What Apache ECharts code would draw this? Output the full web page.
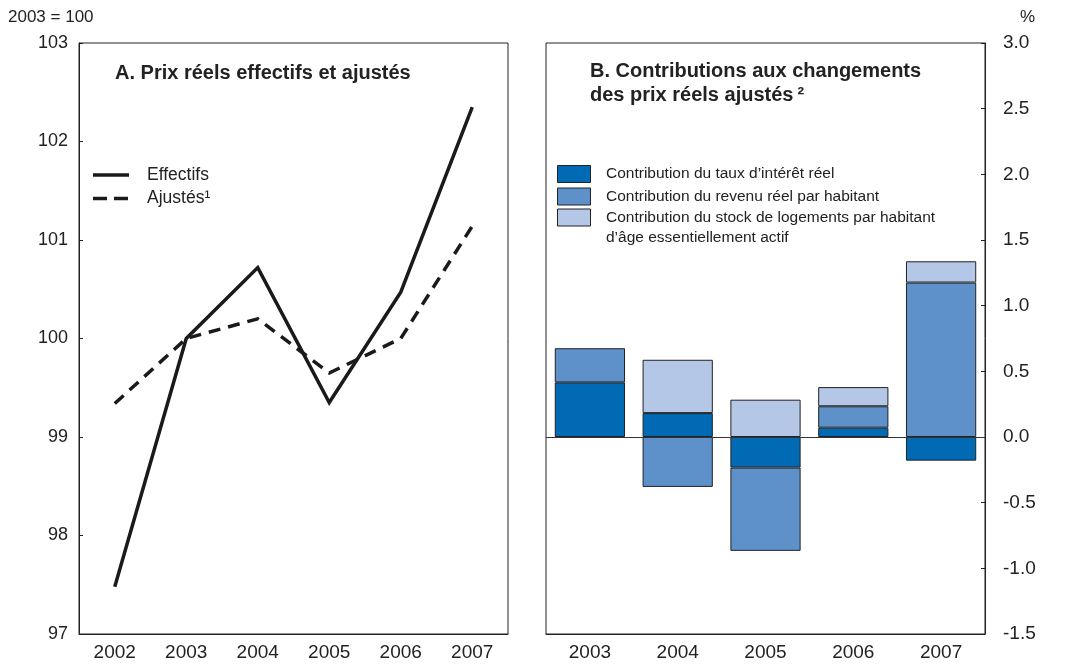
<!DOCTYPE html>
<html>
<head>
<meta charset="utf-8">
<script src="https://cdn.jsdelivr.net/npm/echarts@6/dist/echarts.min.js"></script>
<style>
  html, body { margin: 0; padding: 0; background: #fff; }
  #chart { width: 1069px; height: 664px; }
</style>
</head>
<body>
<div id="chart"></div>
<script>
// Panel A : prix réels (2003 = 100)
var years = ['2002', '2003', '2004', '2005', '2006', '2007'];
var effectifs = [97.48, 100.0, 100.72, 99.35, 100.47, 102.35];
var ajustes = [99.34, 100.0, 100.2, 99.65, 100.0, 101.14];

// Panel B : contributions (%)
var contribYears = ['2003', '2004', '2005', '2006', '2007'];
var tauxInteret = [0.416, 0.182, -0.233, 0.071, -0.18];
var revenu = [0.26, -0.38, -0.634, 0.163, 1.176];
var stockLogements = [null, 0.406, 0.284, 0.146, 0.162];

var legendA = ['Effectifs', 'Ajustés\u00b9'];
var legendB = [
    'Contribution du taux d\u2019intérêt réel',
    'Contribution du revenu réel par habitant',
    'Contribution du stock de logements par habitant\nd\u2019âge essentiellement actif'
];

var FONT = '"Liberation Sans", Arial, Helvetica, sans-serif';
var INK = '#222';
var LINE = '#1a1a1a';
var colors = ['#006ab4', '#5e90ca', '#b4c7e7'];

var myChart = echarts.init(document.getElementById('chart'), null, {renderer: 'canvas'});

function legendBox(i, cy) {
    return [{
        type: 'rect',
        shape: {x: 557.5, y: cy - 8.5, width: 33, height: 17},
        style: {fill: colors[i], stroke: INK, lineWidth: 1}
    }, {
        type: 'text',
        x: 606, y: cy,
        style: {text: legendB[i], font: '15.5px ' + FONT, fill: INK, verticalAlign: 'middle', lineHeight: 20}
    }];
}

var graphics = [
    {type: 'text', x: 8, y: 17, style: {text: '2003 = 100', font: '17px ' + FONT, fill: INK, verticalAlign: 'middle'}},
    {type: 'text', x: 1020, y: 17, style: {text: '%', font: '17px ' + FONT, fill: INK, verticalAlign: 'middle'}},
    {type: 'text', x: 115, y: 73, style: {text: 'A. Prix réels effectifs et ajustés', font: 'bold 20px ' + FONT, fill: INK, verticalAlign: 'middle'}},
    {type: 'text', x: 590, y: 71, style: {text: 'B. Contributions aux changements', font: 'bold 20px ' + FONT, fill: INK, verticalAlign: 'middle'}},
    {type: 'text', x: 590, y: 95, style: {text: 'des prix réels ajustés\u2009\u00b2', font: 'bold 20px ' + FONT, fill: INK, verticalAlign: 'middle'}},
    // légende A
    {type: 'line', shape: {x1: 93, y1: 175, x2: 129, y2: 175}, style: {stroke: LINE, lineWidth: 3.5}},
    {type: 'line', shape: {x1: 93, y1: 198.5, x2: 129, y2: 198.5}, style: {stroke: LINE, lineWidth: 3.5, lineDash: [14, 7]}},
    {type: 'text', x: 147, y: 175, style: {text: legendA[0], font: '17.5px ' + FONT, fill: INK, verticalAlign: 'middle'}},
    {type: 'text', x: 147, y: 198.5, style: {text: legendA[1], font: '17.5px ' + FONT, fill: INK, verticalAlign: 'middle'}}
];
graphics = graphics.concat(legendBox(0, 174), legendBox(1, 196.5));
graphics.push({
    type: 'rect',
    shape: {x: 557.5, y: 209, width: 33, height: 17},
    style: {fill: colors[2], stroke: INK, lineWidth: 1}
});
graphics.push({
    type: 'text',
    x: 606, y: 207,
    style: {text: legendB[2], font: '15.5px ' + FONT, fill: INK, verticalAlign: 'top', lineHeight: 20.5}
});

var barCommon = {
    type: 'bar',
    xAxisIndex: 1,
    yAxisIndex: 1,
    stack: 'contrib',
    barWidth: '80%'
};

myChart.setOption({
    animation: false,
    backgroundColor: '#fff',
    textStyle: {fontFamily: FONT},
    graphic: graphics,
    grid: [
        {left: 79, top: 43, width: 429, height: 591, show: true, borderColor: INK, borderWidth: 1, backgroundColor: 'transparent'},
        {left: 546, top: 43, width: 439, height: 591, show: true, borderColor: INK, borderWidth: 1, backgroundColor: 'transparent'}
    ],
    xAxis: [{
        type: 'category',
        gridIndex: 0,
        data: years,
        boundaryGap: true,
        axisLine: {lineStyle: {color: INK}},
        axisTick: {inside: true, length: 4, lineStyle: {color: INK}},
        axisLabel: {fontSize: 19, color: INK, margin: 9}
    }, {
        type: 'category',
        gridIndex: 1,
        data: contribYears,
        boundaryGap: true,
        axisLine: {onZero: false, lineStyle: {color: INK}},
        axisTick: {inside: true, length: 4, lineStyle: {color: INK}},
        axisLabel: {fontSize: 19, color: INK, margin: 9}
    }],
    yAxis: [{
        type: 'value',
        gridIndex: 0,
        min: 97,
        max: 103,
        interval: 1,
        axisLine: {show: true, lineStyle: {color: INK}},
        axisTick: {show: true, inside: true, length: 4, lineStyle: {color: INK}},
        splitLine: {show: false},
        axisLabel: {fontSize: 18, color: INK, margin: 11}
    }, {
        type: 'value',
        gridIndex: 1,
        position: 'right',
        min: -1.5,
        max: 3,
        interval: 0.5,
        axisLine: {show: true, lineStyle: {color: INK}},
        axisTick: {show: true, inside: true, length: 4, lineStyle: {color: INK}},
        splitLine: {show: false},
        axisLabel: {fontSize: 19, color: INK, margin: 18, formatter: function (v) { return v.toFixed(1); }}
    }],
    series: [{
        name: legendA[0],
        type: 'line',
        xAxisIndex: 0,
        yAxisIndex: 0,
        data: effectifs,
        symbol: 'none',
        lineStyle: {color: LINE, width: 3.5, join: 'miter'}
    }, {
        name: legendA[1],
        type: 'line',
        xAxisIndex: 0,
        yAxisIndex: 0,
        data: ajustes,
        symbol: 'none',
        lineStyle: {color: LINE, width: 3.5, type: [12, 8], join: 'miter'}
    }, Object.assign({}, barCommon, {
        name: legendB[0],
        data: tauxInteret,
        itemStyle: {color: colors[0], borderColor: INK, borderWidth: 1},
        markLine: {
            silent: true,
            symbol: 'none',
            label: {show: false},
            lineStyle: {color: '#333', width: 1, type: 'solid'},
            data: [{yAxis: 0}]
        }
    }), Object.assign({}, barCommon, {
        name: legendB[1],
        data: revenu,
        itemStyle: {color: colors[1], borderColor: INK, borderWidth: 1}
    }), Object.assign({}, barCommon, {
        name: legendB[2],
        data: stockLogements,
        itemStyle: {color: colors[2], borderColor: INK, borderWidth: 1}
    })]
});

window.onresize = function () {
    myChart.resize();
};
</script>
</body>
</html>
